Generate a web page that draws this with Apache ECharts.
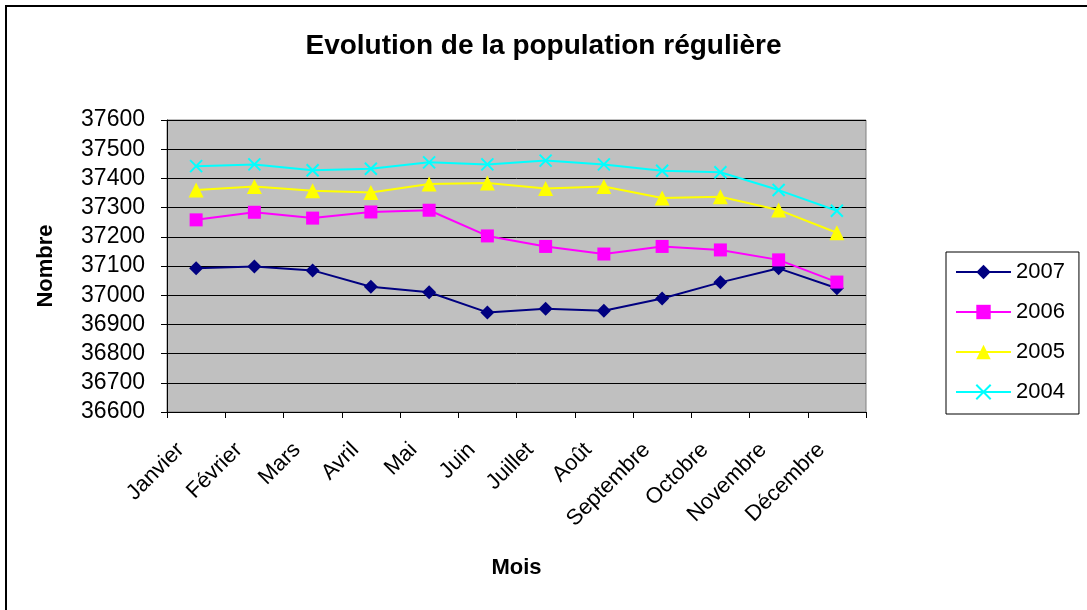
<!DOCTYPE html>
<html>
<head>
<meta charset="utf-8">
<script src="https://cdn.jsdelivr.net/npm/echarts@6/dist/echarts.min.js"></script>
<style>
  html, body { margin: 0; padding: 0; background: #fff; }
  #chart { width: 1087px; height: 610px; }
</style>
</head>
<body>
<div id="chart"></div>
<script>
// données
const mois = ['Janvier', 'Février', 'Mars', 'Avril', 'Mai', 'Juin', 'Juillet', 'Août', 'Septembre', 'Octobre', 'Novembre', 'Décembre'];
const pop2007 = [37092, 37098, 37085, 37029, 37010, 36941, 36954, 36947, 36989, 37044, 37092, 37024];
const pop2006 = [37258, 37284, 37264, 37285, 37291, 37203, 37167, 37141, 37167, 37155, 37121, 37045];
const pop2005 = [37360, 37372, 37358, 37352, 37381, 37384, 37365, 37372, 37333, 37337, 37292, 37214];
const pop2004 = [37442, 37448, 37428, 37433, 37455, 37448, 37461, 37448, 37426, 37421, 37360, 37289];

const font = 'Arial, "Liberation Sans", sans-serif';
const croix = 'path://M0,0L10,10M10,0L0,10';

function serie(name, data, color, symbol, size, extra) {
  return Object.assign({
    name: name,
    type: 'line',
    data: data,
    symbol: symbol,
    symbolSize: size,
    lineStyle: { color: color, width: 2 },
    itemStyle: { color: color },
    emphasis: { disabled: true },
    z: 3
  }, extra || {});
}

const chart = echarts.init(document.getElementById('chart'));
chart.setOption({
  backgroundColor: '#fff',
  animation: false,
  graphic: [{
    type: 'rect',
    shape: { x: 6, y: 6, width: 1100, height: 620 },
    style: { fill: 'none', stroke: '#000', lineWidth: 2 },
    silent: true
  }],
  title: {
    text: 'Evolution de la population régulière',
    left: 'center',
    top: 27,
    textStyle: { fontFamily: font, fontSize: 28, fontWeight: 'bold', color: '#000' }
  },
  legend: {
    orient: 'vertical',
    left: 946,
    top: 252,
    padding: [9, 14, 11, 9],
    itemWidth: 55,
    itemHeight: 18,
    itemGap: 18,
    borderColor: '#000',
    borderWidth: 1,
    textStyle: { fontFamily: font, fontSize: 22, color: '#000' },
    data: ['2007', '2006', '2005', '2004']
  },
  grid: {
    left: 167, top: 120, width: 699, height: 292,
    show: true,
    backgroundColor: '#c0c0c0',
    borderColor: '#808080',
    borderWidth: 1
  },
  xAxis: {
    type: 'category',
    data: mois,
    boundaryGap: true,
    name: 'Mois',
    nameLocation: 'middle',
    nameGap: 145,
    nameTextStyle: { fontFamily: font, fontSize: 22, fontWeight: 'bold', color: '#000' },
    axisLine: { lineStyle: { color: '#000', width: 1 } },
    axisTick: { show: true, alignWithLabel: false, length: 6, lineStyle: { color: '#000' } },
    axisLabel: { interval: 0, rotate: 45, margin: 19, padding: [0, 22, 0, 0], fontFamily: font, fontSize: 22, color: '#000' },
    splitLine: { show: false }
  },
  yAxis: {
    type: 'value',
    min: 36600,
    max: 37600,
    interval: 100,
    name: 'Nombre',
    nameLocation: 'middle',
    nameGap: 110,
    nameRotate: 90,
    nameTextStyle: { fontFamily: font, fontSize: 22, fontWeight: 'bold', color: '#000' },
    axisLine: { show: true, lineStyle: { color: '#000', width: 1 } },
    axisTick: { show: true, length: 6, lineStyle: { color: '#000' } },
    axisLabel: { margin: 22, fontFamily: font, fontSize: 23, color: '#000', formatter: function (v) { return String(v); } },
    splitLine: { show: true, lineStyle: { color: '#000', width: 1 } }
  },
  series: [
    serie('2007', pop2007, '#000080', 'diamond', 14),
    serie('2006', pop2006, '#ff00ff', 'rect', 13),
    serie('2005', pop2005, '#ffff00', 'triangle', 15),
    serie('2004', pop2004, '#00ffff', croix, 12, {
      itemStyle: { color: '#00ffff', borderColor: '#00ffff', borderWidth: 2 }
    })
  ]
});
</script>
</body>
</html>
